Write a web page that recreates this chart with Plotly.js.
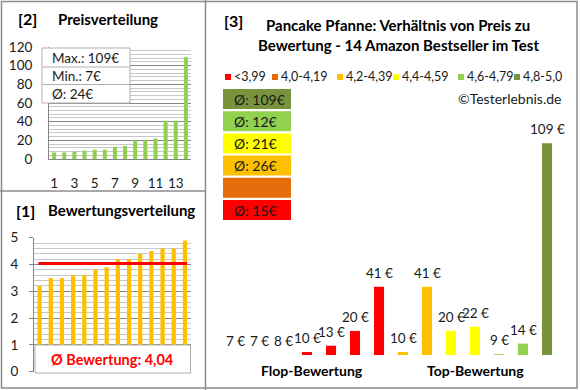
<!DOCTYPE html>
<html><head><meta charset="utf-8">
<script src="https://cdn.plot.ly/plotly-3.0.1.min.js"></script>
<style>html,body{margin:0;padding:0;background:#fff}</style>
</head><body><div id="chart" style="width:580px;height:390px"></div>
<script>
// ---- data ----
const productPrices  = [7, 7, 8, 10, 13, 20, 41, 10, 41, 20, 22, 9, 14, 109];
const productRatings = [3.2, 3.5, 3.5, 3.6, 3.6, 3.8, 3.9, 4.2, 4.2, 4.4, 4.5, 4.6, 4.6, 4.9];
const ratingBinLabels = ['&lt;3,99', '4,0-4,19', '4,2-4,39', '4,4-4,59', '4,6-4,79', '4,8-5,0'];
const ratingBinLower  = [0, 4.0, 4.2, 4.4, 4.6, 4.8];
const ratingBinColors = ['#FF0000', '#E46C0A', '#FFC000', '#FFFF00', '#92D050', '#77933C'];
const groupNames = ['Flop-Bewertung', 'Top-Bewertung'];
const groupThreshold = 4.0;
const priceTickLabels = [1, 3, 5, 7, 9, 11, 13];

// ---- helpers ----
const W = 580, H = 390;
const px = x => x / W, py = y => 1 - y / H;
const FONT = 'Lato, "Open Sans", sans-serif';
const TXT = '#1a1a1a';
const GRID = '#868686', MINOR = '#c8c8c8', BORDER = '#8c8c8c';

const n = productPrices.length;
const idx = productPrices.map((_, i) => i + 1);
const sortedPrices = [...productPrices].sort((a, b) => a - b);
const sortedRatings = [...productRatings].sort((a, b) => a - b);
const meanPrice = productPrices.reduce((a, b) => a + b, 0) / n;
const meanRating = productRatings.reduce((a, b) => a + b, 0) / n;
const binOf = r => { let b = 0; ratingBinLower.forEach((l, i) => { if (r >= l) b = i; }); return b; };
const bins = productRatings.map(binOf);
const Y3MIN = 8.6;

const traces = [];
traces.push({type: 'bar', x: idx, y: sortedPrices, width: 0.4, marker: {color: '#92D050'},
  xaxis: 'x', yaxis: 'y', hoverinfo: 'none'});
traces.push({type: 'bar', x: idx, y: sortedRatings, width: 0.38, marker: {color: '#FFC000'},
  xaxis: 'x2', yaxis: 'y2', hoverinfo: 'none'});
ratingBinLabels.forEach((lab, b) => {
  const xs = [], ys = [];
  productPrices.forEach((p, i) => { if (bins[i] === b) { xs.push(i + 1); ys.push(p); } });
  traces.push({type: 'bar', x: xs, y: ys, width: 0.42, marker: {color: ratingBinColors[b]},
    xaxis: 'x3', yaxis: 'y3', hoverinfo: 'none'});
});

const shapes = [], ann = [];
// bar value labels (right chart)
productPrices.forEach((p, i) => {
  ann.push({text: Math.round(p) + ' €', xref: 'x3', yref: 'y3', x: i + 1, y: Math.max(p, Y3MIN),
    showarrow: false, xanchor: 'center', yanchor: 'bottom', yshift: 4,
    font: {family: FONT, size: 13.5, color: TXT}});
});
// panel borders
const line = (x0, y0, x1, y1, c = BORDER, w = 1.5) => shapes.push({type: 'line', xref: 'paper', yref: 'paper',
  x0: px(x0), y0: py(y0), x1: px(x1), y1: py(y1), line: {color: c, width: w}, layer: 'above'});
shapes.push({type: 'rect', xref: 'paper', yref: 'paper', x0: px(1.5), y0: py(388), x1: px(577), y1: py(1.5),
  line: {color: BORDER, width: 1.5}});
line(205.5, 0, 205.5, 390);
line(0, 191, 205.5, 191);

const A = (text, x, y, o = {}) => ann.push(Object.assign({text, xref: 'paper', yref: 'paper', x: px(x), y: py(y),
  showarrow: false, xanchor: 'left', yanchor: 'middle', font: {family: FONT, size: 13, color: TXT}}, o));
const F = (sz, c = '#000') => ({font: {family: FONT, size: sz, color: c}});

// panel 2
A('<b>[2]</b>', 16, 18, F(16));
A('<b>Preisverteilung</b>', 56, 19, F(15));
shapes.push({type: 'rect', xref: 'paper', yref: 'paper', x0: px(42), x1: px(130), y0: py(103), y1: py(48),
  fillcolor: '#fff', line: {color: '#b0b0b0', width: 1}, layer: 'above'});
line(42, 67, 130, 67, '#b0b0b0', 1);
line(42, 84.5, 130, 84.5, '#b0b0b0', 1);
A('Max.: ' + Math.max(...productPrices) + '€', 50, 58, F(13.5, TXT));
A('Min.: ' + Math.min(...productPrices) + '€', 50, 76, F(13.5, TXT));
A('Ø: ' + Math.round(meanPrice) + '€', 50, 94, F(13.5, TXT));

// panel 1
A('<b>[1]</b>', 14, 210, F(16));
A('<b>Bewertungsverteilung</b>', 46, 210, F(15));
shapes.push({type: 'line', xref: 'x2', yref: 'y2', x0: 0.9, x1: 14.2, y0: meanRating, y1: meanRating,
  line: {color: '#FF0000', width: 3}});
shapes.push({type: 'rect', xref: 'paper', yref: 'paper', x0: px(35), x1: px(190.5), y0: py(373), y1: py(345),
  fillcolor: '#fff', line: {color: '#b0b0b0', width: 1}, layer: 'above'});
A('<b>Ø Bewertung: ' + meanRating.toFixed(2).replace('.', ',') + '</b>', 112, 359,
  {xanchor: 'center', font: {family: FONT, size: 14.5, color: '#FF0000'}});

// panel 3
A('<b>[3]</b>', 222, 20, F(16));
A('<b>Pancake Pfanne: Verhältnis von Preis zu</b>', 398, 25, Object.assign({xanchor: 'center'}, F(15)));
A('<b>Bewertung - 14 Amazon Bestseller im Test</b>', 398, 45, Object.assign({xanchor: 'center'}, F(15)));
const legendX = [225, 272, 337, 393, 458, 514];
ratingBinLabels.forEach((lab, b) => {
  shapes.push({type: 'rect', xref: 'paper', yref: 'paper', x0: px(legendX[b]), x1: px(legendX[b] + 6),
    y0: py(80), y1: py(74), fillcolor: ratingBinColors[b], line: {width: 0}});
  A(lab, legendX[b] + 7, 77, F(12.5, TXT));
});
A('©Testerlebnis.de', 563, 98, Object.assign({xanchor: 'right'}, F(14, TXT)));
for (let i = 0; i < ratingBinLabels.length; i++) {
  const b = ratingBinLabels.length - 1 - i;
  const top = 89 + i * 22.2;
  shapes.push({type: 'rect', xref: 'paper', yref: 'paper', x0: px(223), x1: px(291), y0: py(top + 20), y1: py(top),
    fillcolor: ratingBinColors[b], line: {width: 0}});
  const ps = productPrices.filter((p, k) => bins[k] === b);
  if (ps.length) A('Ø: ' + Math.round(ps.reduce((a, c) => a + c, 0) / ps.length) + '€', 232, top + 10, F(14, TXT));
}
groupNames.forEach((g, gi) => {
  const members = idx.filter((_, k) => (gi === 0) === (productRatings[k] < groupThreshold));
  const c = (Math.min(...members) + Math.max(...members)) / 2;
  ann.push({text: '<b>' + g + '</b>', xref: 'x3', yref: 'paper', x: c, y: py(370), showarrow: false,
    xanchor: 'center', yanchor: 'middle', xshift: gi === 0 ? 5 : 0, font: {family: FONT, size: 14, color: '#000'}});
});

const tickfont = {family: FONT, size: 13.5, color: TXT};
const layout = {
  width: W, height: H, margin: {l: 0, r: 0, t: 0, b: 0}, paper_bgcolor: '#fff', plot_bgcolor: 'rgba(0,0,0,0)',
  showlegend: false, barmode: 'overlay', font: {family: FONT},
  xaxis: {domain: [px(49), px(191)], range: [0.5, 14.5], tickvals: priceTickLabels, showgrid: false, zeroline: false,
    showline: true, linecolor: GRID, ticks: '', ticklabelstandoff: 12, tickfont, anchor: 'y', fixedrange: true},
  yaxis: {domain: [py(159), py(47)], range: [0, 120], dtick: 20, gridcolor: GRID, zeroline: false,
    minor: {dtick: 4, showgrid: true, gridcolor: MINOR}, showline: true, linecolor: GRID, ticks: '',
    ticklabelstandoff: 13, tickfont, anchor: 'x', fixedrange: true},
  xaxis2: {domain: [px(34), px(190.5)], range: [0.5, 14.5], showticklabels: false, showgrid: false, zeroline: false,
    ticks: '', anchor: 'y2', fixedrange: true},
  yaxis2: {domain: [py(371.7), py(237.7)], range: [0, 5], dtick: 1, gridcolor: GRID, zeroline: false,
    minor: {dtick: 0.2, showgrid: true, gridcolor: MINOR}, showline: true, linecolor: GRID, ticks: 'outside',
    ticklen: 4, tickcolor: GRID, ticklabelstandoff: 8, tickfont, anchor: 'x2', fixedrange: true},
  xaxis3: {domain: [px(223), px(559)], range: [0.5, 14.5], visible: false, anchor: 'y3', fixedrange: true},
  yaxis3: {domain: [py(355), py(140)], range: [Y3MIN, 110.5], visible: false, anchor: 'x3', fixedrange: true},
  shapes, annotations: ann
};
Plotly.newPlot('chart', traces, layout, {staticPlot: true, displayModeBar: false});
</script></body></html>
